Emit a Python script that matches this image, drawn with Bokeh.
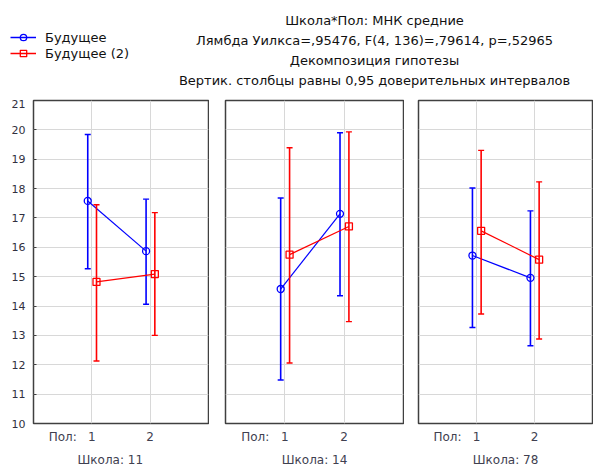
from bokeh.plotting import figure
from bokeh.models import Range1d, FixedTicker, Title, Label, Legend, LegendItem, ColumnDataSource
from bokeh.layouts import column, row
from bokeh.transform import dodge
from bokeh.embed import file_html
from bokeh.resources import INLINE

# ---------------- data ----------------
sex_levels = [1, 2]
sex_tick_labels = {0.5: "Пол:", 1: "1", 2: "2"}
school_labels = ["Школа: 11", "Школа: 14", "Школа: 78"]
y_ticks = list(range(10, 22))

s1_name = "Будущее"
s1_mean = [[17.58, 15.87], [14.58, 17.14], [15.72, 14.96]]
s1_low = [[15.27, 14.06], [11.48, 14.35], [13.27, 12.65]]
s1_high = [[19.84, 17.64], [17.68, 19.90], [18.02, 17.24]]

s2_name = "Будущее (2)"
s2_mean = [[14.82, 15.09], [15.75, 16.71], [16.56, 15.58]]
s2_low = [[12.13, 13.00], [12.06, 13.47], [13.73, 12.88]]
s2_high = [[17.45, 17.18], [19.39, 19.93], [19.30, 18.23]]

titles = [
    "Школа*Пол: МНК средние",
    "Лямбда Уилкса=,95476, F(4, 136)=,79614, p=,52965",
    "Декомпозиция гипотезы",
    "Вертик. столбцы равны 0,95 доверительных интервалов",
]

BLUE = "#0000ff"
RED = "#ff0000"
FONT = "DejaVu Sans"
FRAME = "#404040"
GRID = "#d8d8d8"
LABEL_COLOR = "#404050"


def draw_series(p, means, lows, highs, color, marker, shift):
    src = ColumnDataSource(dict(x=sex_levels, m=means, lo=lows, hi=highs))
    xs = dodge("x", shift, range=p.x_range)
    p.line(x=xs, y="m", source=src, line_color=color, line_width=1.2)
    p.segment(x0=xs, y0="lo", x1=xs, y1="hi", source=src, line_color=color, line_width=1.6)
    p.scatter(x=xs, y="lo", source=src, marker="dash", size=6, line_color=color, line_width=1.4)
    p.scatter(x=xs, y="hi", source=src, marker="dash", size=6, line_color=color, line_width=1.4)
    p.scatter(x=xs, y="m", source=src, marker=marker, size=7, fill_color=None,
              line_color=color, line_width=1.3)


def make_panel(i, width, border_left, show_y, title_align, title_offset):
    p = figure(width=width, height=371, x_range=Range1d(0, 3), y_range=Range1d(10, 21),
               output_backend="svg", toolbar_location=None,
               min_border_left=border_left, min_border_right=1, min_border_top=1,
               min_border_bottom=47, y_axis_location="left" if show_y else None)
    p.outline_line_color = FRAME
    p.outline_line_width = 1.5
    p.background_fill_color = "white"
    p.border_fill_color = "white"

    p.xaxis.ticker = FixedTicker(ticks=list(sex_tick_labels.keys()))
    p.xaxis.major_label_overrides = sex_tick_labels
    p.xaxis.axis_line_color = None
    p.xaxis.major_tick_in = 0
    p.xaxis.major_tick_out = 0
    p.xaxis.minor_tick_line_color = None
    p.xaxis.major_label_standoff = 6
    p.xaxis.major_label_text_font = FONT
    p.xaxis.major_label_text_font_size = "12px"
    p.xaxis.major_label_text_color = LABEL_COLOR

    if show_y:
        p.yaxis.ticker = FixedTicker(ticks=y_ticks)
        p.yaxis.axis_line_color = None
        p.yaxis.major_tick_in = 3
        p.yaxis.major_tick_out = 0
        p.yaxis.major_tick_line_color = FRAME
        p.yaxis.minor_tick_line_color = None
        p.yaxis.major_label_standoff = 8
        p.yaxis.major_label_text_font = FONT
        p.yaxis.major_label_text_font_size = "11px"
        p.yaxis.major_label_text_color = "#303040"

    p.xgrid.ticker = FixedTicker(ticks=sex_levels)
    p.ygrid.ticker = FixedTicker(ticks=y_ticks)
    p.xgrid.grid_line_color = GRID
    p.ygrid.grid_line_color = GRID
    p.xgrid.grid_line_width = 1
    p.ygrid.grid_line_width = 1

    draw_series(p, s1_mean[i], s1_low[i], s1_high[i], BLUE, "circle", -0.07)
    draw_series(p, s2_mean[i], s2_low[i], s2_high[i], RED, "square", 0.08)

    p.add_layout(Title(text=school_labels[i], align=title_align, offset=title_offset,
                       standoff=8, text_font=FONT, text_font_size="12px",
                       text_font_style="normal", text_color=LABEL_COLOR), "below")
    return p


p1 = make_panel(0, 209, 33, True, "left", 44)
p2 = make_panel(1, 195, 16, False, "center", 0)
p3 = make_panel(2, 189, 14, False, "center", 0)

# ---------------- header with titles and legend ----------------
header = figure(width=593, height=99, x_range=Range1d(0, 1), y_range=Range1d(0, 1),
                output_backend="svg", toolbar_location=None,
                min_border=0, x_axis_location=None, y_axis_location=None)
header.outline_line_color = None
header.xgrid.visible = False
header.ygrid.visible = False

for k, t in enumerate(titles):
    header.add_layout(Label(x=374, y=79 - 20 * k, x_units="screen", y_units="screen",
                            text=t, text_align="center", text_baseline="middle",
                            text_font=FONT, text_font_size="13px", text_color="#111111"))

# legend key renderers (single point kept outside the visible range)
key_src = ColumnDataSource(dict(x=[-100], y=[-100]))
l1 = header.line("x", "y", source=key_src, line_color=BLUE, line_width=1.5)
m1 = header.scatter("x", "y", source=key_src, marker="circle", size=7, fill_color=None,
                    line_color=BLUE, line_width=1.3)
l2 = header.line("x", "y", source=key_src, line_color=RED, line_width=1.5)
m2 = header.scatter("x", "y", source=key_src, marker="square", size=7, fill_color=None,
                    line_color=RED, line_width=1.3)
legend = Legend(items=[LegendItem(label=s1_name, renderers=[l1, m1]),
                       LegendItem(label=s2_name, renderers=[l2, m2])],
                location=(10, 38), orientation="vertical",
                border_line_color=None, background_fill_alpha=0,
                padding=0, margin=0, spacing=0,
                glyph_width=26, glyph_height=16, label_height=16, label_standoff=9,
                label_text_font=FONT, label_text_font_size="13px", label_text_color="#111111")
header.add_layout(legend)

layout = column(header, row(p1, p2, p3))
open("out.html", "w").write(file_html(layout, INLINE))
